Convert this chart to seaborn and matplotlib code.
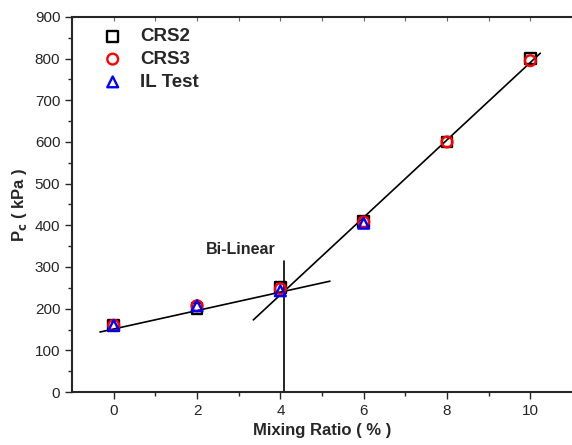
import matplotlib
matplotlib.use("Agg")
import matplotlib.pyplot as plt
import seaborn as sns
import pandas as pd

# measured data
ratio_crs = [0, 2, 4, 6, 8, 10]
pc_crs2 = [160, 200, 250, 410, 600, 800]
pc_crs3 = [160, 207, 248, 408, 600, 795]
ratio_il = [0, 2, 4, 6]
pc_il = [160, 207, 243, 405]

# bi-linear fit lines
fit1_x = [-0.33, 5.19]
fit1_y = [144, 266]
fit2_x = [3.35, 10.24]
fit2_y = [173, 813]
break_x = [4.09, 4.09]
break_y = [0, 314]

sns.set_style("ticks")
plt.rcParams['font.family'] = ['Liberation Sans', 'DejaVu Sans']

fig = plt.figure(figsize=(5.72, 4.45), dpi=100)
ax = fig.add_axes([0.126, 0.119, 0.874, 0.843])

ax.plot(fit1_x, fit1_y, color='black', lw=1.2)
ax.plot(fit2_x, fit2_y, color='black', lw=1.2)
ax.plot(break_x, break_y, color='black', lw=1.2)

df2 = pd.DataFrame({'x': ratio_crs, 'y': pc_crs2})
df3 = pd.DataFrame({'x': ratio_crs, 'y': pc_crs3})
dfi = pd.DataFrame({'x': ratio_il, 'y': pc_il})

kw = dict(s=60, facecolor='none', linewidth=1.7, zorder=3)
sns.scatterplot(data=df2, x='x', y='y', marker='s', edgecolor='black', label='CRS2', ax=ax, **kw)
sns.scatterplot(data=df3, x='x', y='y', marker='o', edgecolor='red', label='CRS3', ax=ax, **kw)
sns.scatterplot(data=dfi, x='x', y='y', marker='^', edgecolor='blue', label='IL Test', ax=ax, **kw)

ax.text(3.06, 341, 'Bi-Linear', fontsize=11.5, fontweight='bold', ha='center', va='center')

ax.set_xlim(-1, 11)
ax.set_ylim(0, 900)
ax.set_xticks([0, 2, 4, 6, 8, 10])
ax.set_xticks([1, 3, 5, 7, 9], minor=True)
ax.set_yticks(range(0, 901, 100))
ax.set_yticks(range(50, 900, 100), minor=True)
ax.tick_params(axis='both', which='major', length=5, width=1, labelsize=11, direction='out')
ax.tick_params(axis='both', which='minor', length=3, width=1, direction='out')
ax.spines['right'].set_visible(False)
for s in ['left', 'bottom', 'top']:
    ax.spines[s].set_linewidth(1.5)

# small inward ticks along the top spine
top = ax.secondary_xaxis('top')
top.set_xticks(range(-1, 12))
top.tick_params(direction='in', length=3, width=0.8, color='0.4', labeltop=False)
top.spines['top'].set_visible(False)

ax.set_xlabel('Mixing Ratio ( % )', fontsize=12, fontweight='bold')
ax.set_ylabel(r'P$_{\mathbf{c}}$ ( kPa )', fontsize=12, fontweight='bold')

leg = ax.legend(loc='upper left', bbox_to_anchor=(0.04, 0.995), frameon=False,
                prop={'weight': 'bold', 'size': 13.5},
                handletextpad=0.85, borderaxespad=0.1, labelspacing=0.3, handlelength=1.2)

fig.savefig('out.png', dpi=100)
